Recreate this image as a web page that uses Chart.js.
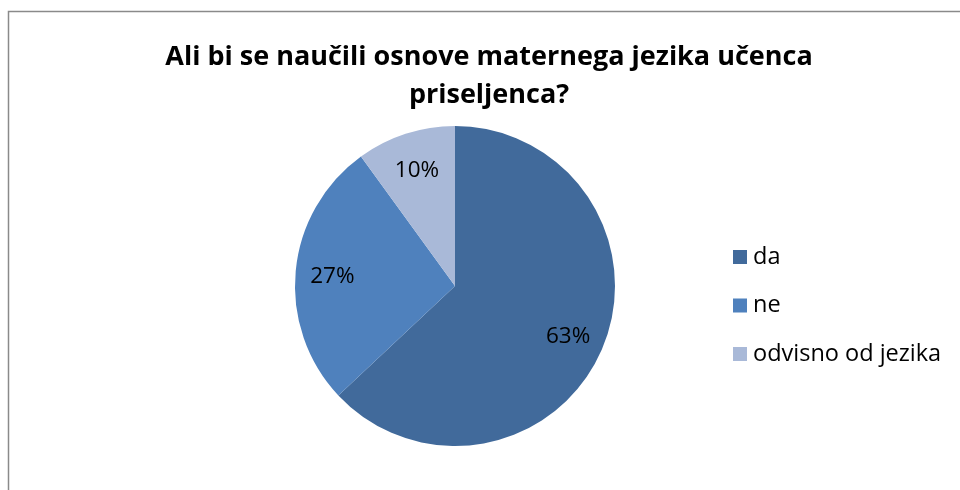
<!DOCTYPE html>
<html>
<head>
<meta charset="utf-8">
<script src="https://cdn.jsdelivr.net/npm/chart.js@4"></script>
<style>
  html, body { margin: 0; padding: 0; background: #ffffff; }
  #wrap { width: 960px; height: 490px; position: relative; }
</style>
</head>
<body>
<div id="wrap"><canvas id="c" width="960" height="490"></canvas></div>
<script>
// Survey answers: would you learn the basics of an immigrant pupil's mother tongue?
const titleLines = ['Ali bi se naučili osnove maternega jezika učenca', 'priseljenca?'];
const categories = ['da', 'ne', 'odvisno od jezika'];
const shares = [63, 27, 10];
const percentLabels = ['63%', '27%', '10%'];
const sliceColors = ['#416A9B', '#4F81BD', '#A9B9D8'];

const FONT = '"Open Sans", sans-serif';

// Frame: top and left rule of the chart box
const framePlugin = {
  id: 'frame',
  beforeDraw(chart) {
    const ctx = chart.ctx;
    ctx.save();
    ctx.fillStyle = '#ffffff';
    ctx.fillRect(0, 0, chart.width, chart.height);
    ctx.strokeStyle = '#8a8a8a';
    ctx.lineWidth = 1.5;
    ctx.beginPath();
    ctx.moveTo(8.5, chart.height);
    ctx.lineTo(8.5, 11.5);
    ctx.lineTo(chart.width, 11.5);
    ctx.stroke();
    ctx.restore();
  }
};

// Two-line bold heading
const headingPlugin = {
  id: 'heading',
  afterDraw(chart) {
    const ctx = chart.ctx;
    ctx.save();
    ctx.fillStyle = '#000000';
    ctx.font = 'bold 27px ' + FONT;
    ctx.textAlign = 'center';
    ctx.textBaseline = 'middle';
    ctx.fillText(titleLines[0], 489, 57);
    ctx.fillText(titleLines[1], 489, 95);
    ctx.restore();
  }
};

// Percentage labels placed inside each slice
const sliceLabelPlugin = {
  id: 'sliceLabels',
  afterDatasetsDraw(chart) {
    const ctx = chart.ctx;
    const meta = chart.getDatasetMeta(0);
    ctx.save();
    ctx.fillStyle = '#000000';
    ctx.font = '22.5px ' + FONT;
    ctx.textAlign = 'center';
    ctx.textBaseline = 'middle';
    meta.data.forEach((arc, i) => {
      const p = arc.getProps(['x', 'y', 'startAngle', 'endAngle', 'outerRadius'], true);
      const mid = (p.startAngle + p.endAngle) / 2;
      const r = p.outerRadius * 0.77;
      ctx.fillText(percentLabels[i], p.x + Math.cos(mid) * r, p.y + Math.sin(mid) * r + 2);
    });
    ctx.restore();
  }
};

// Legend on the right: square swatch + category name
const sideLegendPlugin = {
  id: 'sideLegend',
  afterDraw(chart) {
    const ctx = chart.ctx;
    const ds = chart.data.datasets[0];
    ctx.save();
    ctx.font = '23.5px ' + FONT;
    ctx.textBaseline = 'middle';
    chart.data.labels.forEach((lab, i) => {
      const cy = 257 + i * 48.5;
      ctx.fillStyle = ds.backgroundColor[i];
      ctx.fillRect(733, cy - 7, 14, 14);
      ctx.fillStyle = '#000000';
      ctx.fillText(lab, 753, cy);
    });
    ctx.restore();
  }
};

new Chart(document.getElementById('c'), {
  type: 'pie',
  data: {
    labels: categories,
    datasets: [{
      data: shares,
      backgroundColor: sliceColors,
      borderWidth: 0
    }]
  },
  options: {
    responsive: false,
    animation: false,
    layout: { padding: { top: 126, bottom: 44, left: 295, right: 345 } },
    plugins: {
      legend: { display: false },
      title: { display: false },
      tooltip: { enabled: false }
    }
  },
  plugins: [framePlugin, headingPlugin, sliceLabelPlugin, sideLegendPlugin]
});
</script>
</body>
</html>
